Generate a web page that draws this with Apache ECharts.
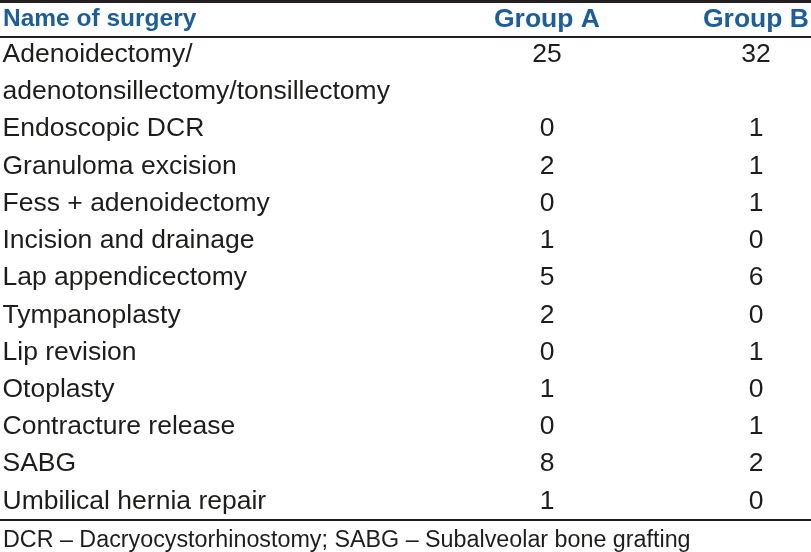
<!DOCTYPE html>
<html>
<head>
<meta charset="utf-8">
<script src="https://cdn.jsdelivr.net/npm/echarts@6/dist/echarts.min.js"></script>
<style>
html,body{margin:0;padding:0;background:#fff;}
#c{width:811px;height:552px;}
</style>
</head>
<body>
<div id="c"></div>
<script>
const headerName = 'Name of surgery';
const groups = ['Group A', 'Group B'];
const surgeries = [
  'Adenoidectomy/\nadenotonsillectomy/tonsillectomy',
  'Endoscopic DCR',
  'Granuloma excision',
  'Fess + adenoidectomy',
  'Incision and drainage',
  'Lap appendicectomy',
  'Tympanoplasty',
  'Lip revision',
  'Otoplasty',
  'Contracture release',
  'SABG',
  'Umbilical hernia repair'
];
const groupA = [25, 0, 2, 0, 1, 5, 2, 0, 1, 0, 8, 1];
const groupB = [32, 1, 1, 1, 0, 6, 0, 1, 0, 1, 2, 0];
const footnote = 'DCR – Dacryocystorhinostomy; SABG – Subalveolar bone grafting';

// Build row slots (a wrapped name occupies several slots)
const slotLabels = [];
const rowSlot = [];
surgeries.forEach(function (name) {
  rowSlot.push(slotLabels.length);
  name.split('\n').forEach(function (line) { slotLabels.push(line); });
});

const FONT = '"Liberation Sans", Arial, Helvetica, sans-serif';
const TEXT = '#1f1d1c';
const BLUE = '#1c5d9e';

function seriesFor(gi, values) {
  return {
    type: 'scatter',
    name: groups[gi],
    symbolSize: 1,
    itemStyle: { color: 'rgba(0,0,0,0)', opacity: 1 },
    silent: true,
    label: {
      show: true,
      position: 'inside',
      formatter: function (p) { return String(p.value[2]); },
      color: TEXT,
      opacity: 1,
      fontFamily: FONT,
      fontSize: 26.5
    },
    data: values.map(function (v, i) { return [gi, rowSlot[i], v]; })
  };
}

const chart = echarts.init(document.getElementById('c'), null, { renderer: 'canvas' });
chart.setOption({
  animation: false,
  backgroundColor: '#ffffff',
  title: [
    {
      text: headerName,
      left: 3, top: 7, padding: 0,
      textStyle: { color: BLUE, fontFamily: FONT, fontSize: 24.5, fontWeight: 'bold' }
    },
    {
      text: footnote,
      left: 3, top: 529, padding: 0,
      textStyle: { color: TEXT, fontFamily: FONT, fontSize: 23.3, fontWeight: 'normal' }
    }
  ],
  grid: { left: 442.5, width: 418, top: 36, bottom: 32, containLabel: false, outerBoundsMode: 'none' },
  xAxis: {
    type: 'category',
    position: 'top',
    data: groups,
    axisLine: { show: false },
    axisTick: { show: false },
    splitLine: { show: false },
    axisLabel: {
      margin: 3,
      color: BLUE,
      fontFamily: FONT,
      fontSize: 26.5,
      fontWeight: 'bold',
      interval: 0
    }
  },
  yAxis: {
    type: 'category',
    inverse: true,
    data: slotLabels,
    axisLine: { show: false },
    axisTick: { show: false },
    splitLine: { show: false },
    axisLabel: {
      margin: 440,
      align: 'left',
      color: TEXT,
      fontFamily: FONT,
      fontSize: 26.5,
      interval: 0
    }
  },
  graphic: [
    { type: 'rect', shape: { x: 0, y: 0, width: 811, height: 3 }, style: { fill: '#231f20' }, silent: true },
    { type: 'rect', shape: { x: 0, y: 36, width: 811, height: 2 }, style: { fill: '#231f20' }, silent: true },
    { type: 'rect', shape: { x: 0, y: 519, width: 811, height: 2 }, style: { fill: '#231f20' }, silent: true }
  ],
  series: [seriesFor(0, groupA), seriesFor(1, groupB)]
});
</script>
</body>
</html>
